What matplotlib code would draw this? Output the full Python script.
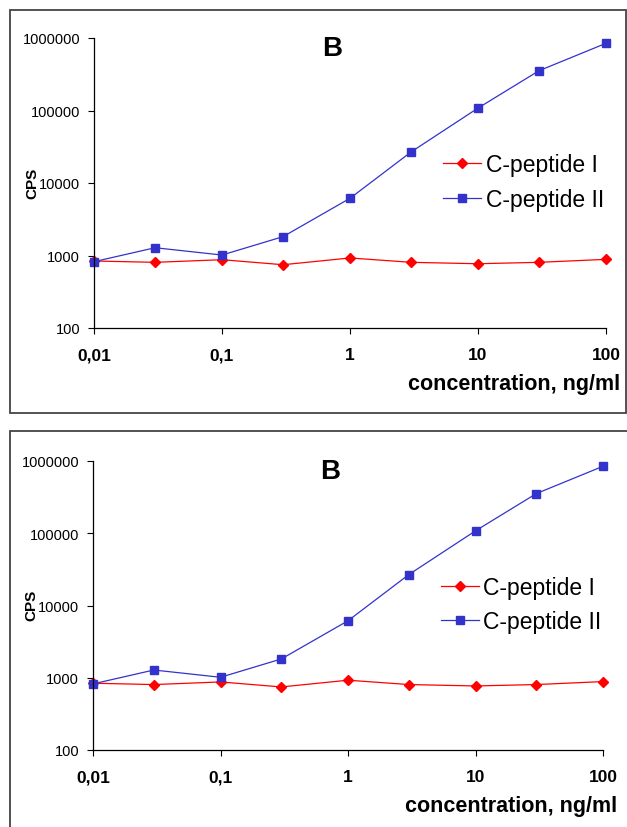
import matplotlib
matplotlib.use('Agg')
import matplotlib.pyplot as plt
from matplotlib.patches import Rectangle

plt.rcParams['font.family'] = ['Liberation Sans', 'DejaVu Sans']

conc = [0.01, 0.03, 0.1, 0.3, 1, 3, 10, 30, 100]
cpep_1 = [840, 805, 875, 746, 925, 805, 770, 805, 885]
cpep_2 = [822, 1280, 1015, 1820, 6150, 26800, 108000, 354000, 845000]
x_ticks = [0.01, 0.1, 1, 10, 100]
x_labels = ['0,01', '0,1', '1', '10', '100']
y_ticks = [100, 1000, 10000, 100000, 1000000]
y_labels = ['100', '1000', '10000', '100000', '1000000']

fig = plt.figure(figsize=(6.27, 8.28), dpi=100)
W, H = 627, 828

# panel frames (pixels: x0, y0, x1, y1)
frames = [(10, 11, 626, 414), (10, 432, 640, 840)]
for x0, y0, x1, y1 in frames:
    fig.patches.append(Rectangle((x0 / W, 1 - y1 / H), (x1 - x0) / W, (y1 - y0) / H,
                                 transform=fig.transFigure, fill=False,
                                 edgecolor='#444444', linewidth=1.3))

# axes boxes (pixels: left, top, right, bottom)
boxes = [(94, 39, 606, 329), (93, 462, 603, 751)]
for l, t, r, b in boxes:
    ax = fig.add_axes([l / W, 1 - b / H, (r - l) / W, (b - t) / H])
    ax.plot(conc, cpep_1, color='#FF0000', marker='D', markersize=5.5, linewidth=0.9,
            label='C-peptide I')
    ax.plot(conc, cpep_2, color='#3333CC', marker='s', markersize=5.5, linewidth=0.9,
            label='C-peptide II')
    ax.set_xscale('log')
    ax.set_yscale('log')
    ax.set_xlim(0.01, 100)
    ax.set_ylim(100, 1000000)
    ax.minorticks_off()
    ax.set_xticks(x_ticks)
    ax.set_xticklabels(x_labels, fontsize=12.5, fontweight='bold')
    ax.set_yticks(y_ticks)
    ax.set_yticklabels(y_labels, fontsize=10.5)
    ax.tick_params(axis='x', length=4, width=0.8, pad=10)
    ax.tick_params(axis='y', length=4, width=0.8, pad=6)
    ax.spines['top'].set_visible(False)
    ax.spines['right'].set_visible(False)
    for s in ['left', 'bottom']:
        ax.spines[s].set_linewidth(0.9)
    for ln in ax.lines:
        ln.set_clip_on(False)
    ax.text(0.465, 0.966, 'B', transform=ax.transAxes, ha='center', va='center',
            fontsize=20, fontweight='bold')
    ax.text(-0.12, 0.503, 'CPS', transform=ax.transAxes, ha='center', va='center',
            rotation=90, fontsize=11, fontweight='bold')
    ax.text(1.027, -0.193, 'concentration, ng/ml', transform=ax.transAxes, ha='right',
            va='center', fontsize=15.5, fontweight='bold')
    ax.legend(loc='upper left', bbox_to_anchor=(0.682, 0.603), frameon=False,
              fontsize=16.5, handlelength=1.65, handletextpad=0.2, labelspacing=0.5,
              borderpad=0, borderaxespad=0)

fig.savefig('out.png', dpi=100)
